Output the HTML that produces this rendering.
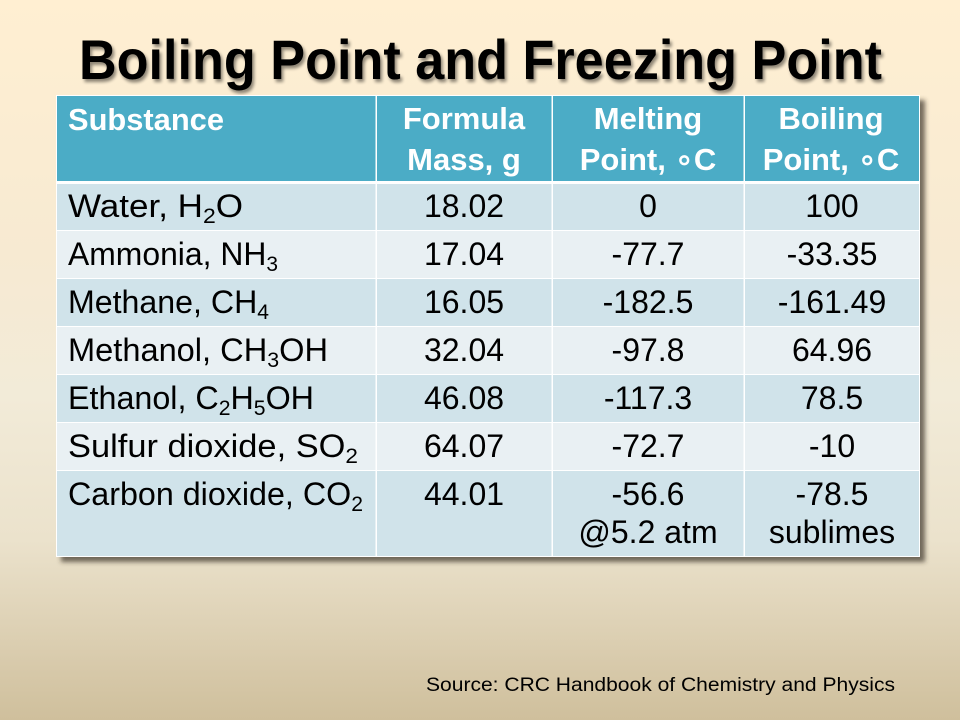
<!DOCTYPE html>
<html>
<head>
<meta charset="utf-8">
<style>
html,body{margin:0;padding:0;width:960px;height:720px;overflow:hidden;}
svg{display:block;}
text{font-family:"Liberation Sans","DejaVu Sans",sans-serif;}
</style>
</head>
<body>
<svg width="960" height="720" viewBox="0 0 960 720" xmlns="http://www.w3.org/2000/svg">
<defs>
<linearGradient id="bg" x1="0" y1="0" x2="0" y2="1">
<stop offset="0" stop-color="#FFEFD2"/>
<stop offset="0.35" stop-color="#F7EAD2"/>
<stop offset="0.55" stop-color="#F2EBD8"/>
<stop offset="0.75" stop-color="#EBE2CC"/>
<stop offset="1" stop-color="#CFBF9C"/>
</linearGradient>
<filter id="tsh" x="-5%" y="-20%" width="110%" height="150%">
<feGaussianBlur in="SourceAlpha" stdDeviation="1.6"/>
<feOffset dx="2" dy="3" result="b"/>
<feComponentTransfer><feFuncA type="linear" slope="0.45"/></feComponentTransfer>
<feMerge><feMergeNode/><feMergeNode in="SourceGraphic"/></feMerge>
</filter>
<filter id="bsh" x="-5%" y="-5%" width="110%" height="110%">
<feGaussianBlur stdDeviation="2.5"/>
</filter>
</defs>

<rect x="0" y="0" width="960" height="720" fill="url(#bg)"/>

<!-- title -->
<text x="79" y="79" font-size="56" font-weight="bold" fill="#000" textLength="803" lengthAdjust="spacingAndGlyphs" filter="url(#tsh)">Boiling Point and Freezing Point</text>

<!-- table shadow -->
<rect x="61" y="100" width="864" height="462" fill="rgba(60,50,40,0.7)" filter="url(#bsh)"/>

<!-- table base (white lines) -->
<rect x="56" y="95" width="864" height="462" fill="#FFFFFF"/>

<!-- header -->
<rect x="57" y="96" width="862" height="85" fill="#4BACC6"/>

<!-- rows -->
<rect x="57" y="184" width="862" height="46" fill="#D0E3EA"/>
<rect x="57" y="231" width="862" height="47" fill="#E9F0F3"/>
<rect x="57" y="279" width="862" height="47" fill="#D0E3EA"/>
<rect x="57" y="327" width="862" height="47" fill="#E9F0F3"/>
<rect x="57" y="375" width="862" height="47" fill="#D0E3EA"/>
<rect x="57" y="423" width="862" height="47" fill="#E9F0F3"/>
<rect x="57" y="471" width="862" height="85" fill="#D0E3EA"/>

<!-- vertical lines -->
<rect x="375.5" y="95" width="1.5" height="462" fill="#FFFFFF"/>
<rect x="551.5" y="95" width="1.5" height="462" fill="#FFFFFF"/>
<rect x="743.5" y="95" width="1.5" height="462" fill="#FFFFFF"/>

<!-- header text -->
<g fill="#FFFFFF" font-size="31" font-weight="bold">
<text x="68" y="130" textLength="156" lengthAdjust="spacingAndGlyphs">Substance</text>
<text x="464" y="129" text-anchor="middle">Formula</text>
<text x="464" y="170" text-anchor="middle">Mass, g</text>
<text x="648" y="129" text-anchor="middle">Melting</text>
<text x="648" y="170" text-anchor="middle">Point, ∘C</text>
<text x="831" y="129" text-anchor="middle">Boiling</text>
<text x="831" y="170" text-anchor="middle">Point, ∘C</text>
</g>

<!-- body text -->
<g fill="#000" font-size="32">
<text x="68" y="217" textLength="175" lengthAdjust="spacingAndGlyphs">Water, H<tspan font-size="21" dy="6">2</tspan><tspan dy="-6">O</tspan></text>
<text x="68" y="265" textLength="210" lengthAdjust="spacingAndGlyphs">Ammonia, NH<tspan font-size="21" dy="6">3</tspan></text>
<text x="68" y="313" textLength="201" lengthAdjust="spacingAndGlyphs">Methane, CH<tspan font-size="21" dy="6">4</tspan></text>
<text x="68" y="361" textLength="260" lengthAdjust="spacingAndGlyphs">Methanol, CH<tspan font-size="21" dy="6">3</tspan><tspan dy="-6">OH</tspan></text>
<text x="68" y="409" textLength="246" lengthAdjust="spacingAndGlyphs">Ethanol, C<tspan font-size="21" dy="6">2</tspan><tspan dy="-6">H</tspan><tspan font-size="21" dy="6">5</tspan><tspan dy="-6">OH</tspan></text>
<text x="68" y="457" textLength="290" lengthAdjust="spacingAndGlyphs">Sulfur dioxide, SO<tspan font-size="21" dy="6">2</tspan></text>
<text x="68" y="505" textLength="295" lengthAdjust="spacingAndGlyphs">Carbon dioxide, CO<tspan font-size="21" dy="6">2</tspan></text>

<text x="464" y="217" text-anchor="middle">18.02</text>
<text x="464" y="265" text-anchor="middle">17.04</text>
<text x="464" y="313" text-anchor="middle">16.05</text>
<text x="464" y="361" text-anchor="middle">32.04</text>
<text x="464" y="409" text-anchor="middle">46.08</text>
<text x="464" y="457" text-anchor="middle">64.07</text>
<text x="464" y="505" text-anchor="middle">44.01</text>

<text x="648" y="217" text-anchor="middle">0</text>
<text x="648" y="265" text-anchor="middle">-77.7</text>
<text x="648" y="313" text-anchor="middle">-182.5</text>
<text x="648" y="361" text-anchor="middle">-97.8</text>
<text x="648" y="409" text-anchor="middle">-117.3</text>
<text x="648" y="457" text-anchor="middle">-72.7</text>
<text x="648" y="505" text-anchor="middle">-56.6</text>
<text x="648" y="543" text-anchor="middle">@5.2 atm</text>

<text x="832" y="217" text-anchor="middle">100</text>
<text x="832" y="265" text-anchor="middle">-33.35</text>
<text x="832" y="313" text-anchor="middle">-161.49</text>
<text x="832" y="361" text-anchor="middle">64.96</text>
<text x="832" y="409" text-anchor="middle">78.5</text>
<text x="832" y="457" text-anchor="middle">-10</text>
<text x="832" y="505" text-anchor="middle">-78.5</text>
<text x="832" y="543" text-anchor="middle">sublimes</text>
</g>

<!-- source -->
<text x="426" y="691" font-size="19" fill="#000" textLength="469" lengthAdjust="spacingAndGlyphs">Source: CRC Handbook of Chemistry and Physics</text>
</svg>
</body>
</html>
